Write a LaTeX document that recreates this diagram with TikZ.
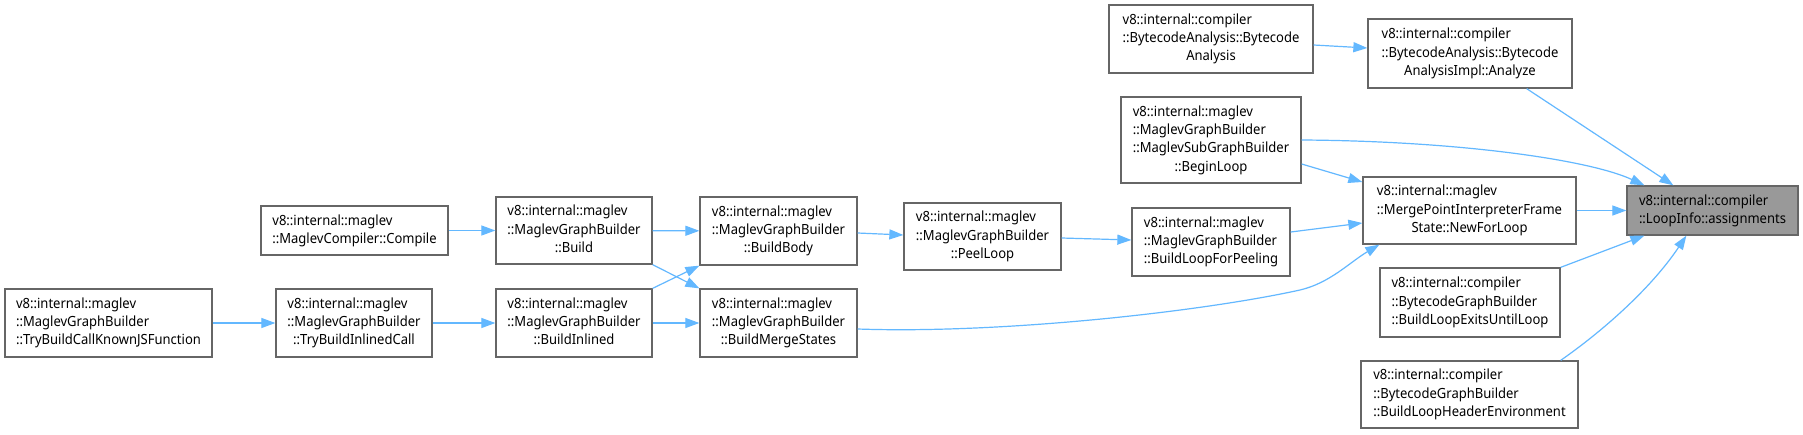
\documentclass[tikz,border=0pt]{standalone}
\usepackage{fontspec}
\setmainfont{Noto Sans}[FakeStretch=0.93]
\usetikzlibrary{arrows.meta}
\definecolor{edgeblue}{HTML}{63B8FF}
\definecolor{nodeborder}{HTML}{666666}
\definecolor{hlfill}{HTML}{999999}
\newcommand{\lbl}[2]{\begin{tabular}{@{}l@{}}#1\\\multicolumn{1}{@{}c@{}}{#2}\end{tabular}}
\newcommand{\mknode}[7][]{\node[gnode,#1,minimum width={(#5)-(#3)},minimum height={(#6)-(#4)}] (#2) at ({((#3)+(#5))/2},{((#4)+(#6))/2}) {#7};}
\tikzset{
  gnode/.style={draw=nodeborder, fill=white, line width=1.3pt, inner sep=0pt,
    font=\fontsize{14}{18.3}\selectfont},
  hl/.style={fill=hlfill},
  link/.style={draw=edgeblue, line width=1.2pt, -{Triangle[length=14pt,width=10pt]}}
}
\begin{document}
\begin{tikzpicture}[x=1pt,y=-1pt]
\useasboundingbox[fill=white] (0,0) rectangle (1803,434);
\mknode{jsf}{5}{289}{212}{357}{\lbl{v8::internal::maglev\\::MaglevGraphBuilder}{::TryBuildCallKnownJSFunction}}
\mknode{tbic}{276}{289}{432}{357}{\lbl{v8::internal::maglev\\::MaglevGraphBuilder}{::TryBuildInlinedCall}}
\mknode{comp}{261}{206}{448}{255}{\lbl{v8::internal::maglev}{::MaglevCompiler::Compile}}
\mknode{build}{496}{197}{652}{264}{\lbl{v8::internal::maglev\\::MaglevGraphBuilder}{::Build}}
\mknode{binl}{496}{289}{652}{357}{\lbl{v8::internal::maglev\\::MaglevGraphBuilder}{::BuildInlined}}
\mknode{bbody}{700}{197}{857}{265}{\lbl{v8::internal::maglev\\::MaglevGraphBuilder}{::BuildBody}}
\mknode{bms}{700}{289}{857}{357}{\lbl{v8::internal::maglev\\::MaglevGraphBuilder}{::BuildMergeStates}}
\mknode{peel}{904}{203}{1061}{270}{\lbl{v8::internal::maglev\\::MaglevGraphBuilder}{::PeelLoop}}
\mknode{blfp}{1132}{208}{1290}{276}{\lbl{v8::internal::maglev\\::MaglevGraphBuilder}{::BuildLoopForPeeling}}
\mknode{begin}{1121}{97}{1301}{183}{\lbl{v8::internal::maglev\\::MaglevGraphBuilder\\::MaglevSubGraphBuilder}{::BeginLoop}}
\mknode{bca}{1109}{5}{1313}{73}{\lbl{v8::internal::compiler\\::BytecodeAnalysis::Bytecode}{Analysis}}
\mknode{anl}{1368}{19}{1572}{88}{\lbl{v8::internal::compiler\\::BytecodeAnalysis::Bytecode}{AnalysisImpl::Analyze}}
\mknode{nfl}{1363}{177}{1576}{244}{\lbl{v8::internal::maglev\\::MergePointInterpreterFrame}{State::NewForLoop}}
\mknode{bleul}{1380}{268}{1560}{337}{\lbl{v8::internal::compiler\\::BytecodeGraphBuilder}{::BuildLoopExitsUntilLoop}}
\mknode{blhe}{1361}{361}{1578}{428}{\lbl{v8::internal::compiler\\::BytecodeGraphBuilder}{::BuildLoopHeaderEnvironment}}
\mknode[hl]{li}{1627}{186}{1798}{235}{\lbl{v8::internal::compiler}{::LoopInfo::assignments}}

\draw[link] (jsf) -- (tbic);
\draw[link] (tbic) -- (binl);
\draw[link] (comp) -- (build);
\draw[link] (build) -- (bbody);
\draw[link] (build.south east) -- (bms.north west);
\draw[link] (binl.north east) -- (bbody.south west);
\draw[link] (binl) -- (bms);
\draw[link] ([yshift=-2pt]bbody.east) -- ([yshift=1.5pt]peel.west);
\draw[link] ([yshift=-1.5pt]peel.east) -- ([yshift=2pt]blfp.west);
\draw[link] ([yshift=10pt]blfp.east) -- ([yshift=-12.5pt]nfl.west);
\draw[link] ([yshift=-6pt]bms.east) .. controls (1000,334) and (1200,312) .. (1300,290)
  .. controls (1330,283) and (1350,262) .. ([xshift=17pt]nfl.south west);
\draw[link] ([yshift=-24pt]begin.east) -- ([yshift=28.5pt]nfl.west);
\draw[link] (begin.east) .. controls (1460,141) and (1590,160) .. ([xshift=18pt]li.north west);
\draw[link] ([yshift=-6pt]bca.east) -- ([yshift=5.5pt]anl.west);
\draw[link] ([xshift=-46pt]anl.south east) -- ([xshift=47pt]li.north west);
\draw[link] (nfl) -- (li);
\draw[link] (bleul.north east) -- ([xshift=18pt]li.south west);
\draw[link] ([xshift=-18pt]blhe.north east) .. controls (1600,333) and (1650,290) .. ([xshift=60pt]li.south west);
\end{tikzpicture}
\end{document}
